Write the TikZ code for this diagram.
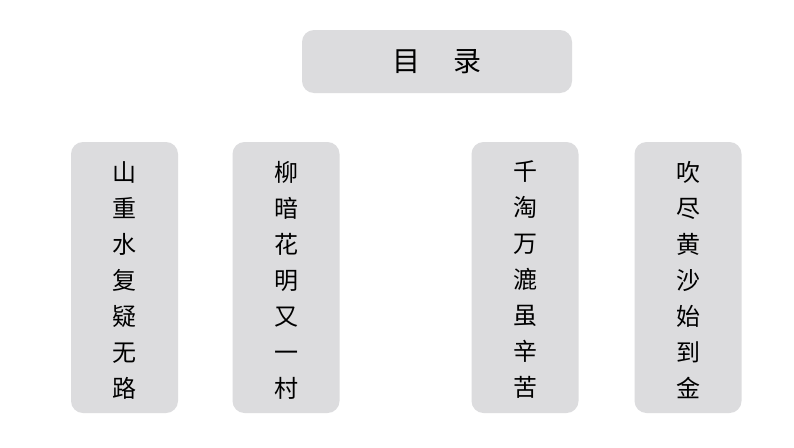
\documentclass[tikz,border=0pt]{standalone}
\usepackage{fontspec}
\newfontfamily\cjk{Noto Sans CJK SC}
\definecolor{boxgray}{HTML}{DCDCDE}
\begin{document}
\begin{tikzpicture}[x=1pt,y=-1pt,
  panel/.style={fill=boxgray,rounded corners=12pt,draw=none},
  chars/.style={font=\cjk\fontsize{24}{36}\selectfont,align=center,text=black}]
\useasboundingbox (0,0) rectangle (794,447);
\fill[white] (0,0) rectangle (794,447);
\node[panel,minimum width=270pt,minimum height=63pt] (title) at (437,61.5) {};
\node[font=\cjk\fontsize{28}{30}\selectfont] (tt) at (title) {目\hspace{1.2em}录};
\foreach \n/\x/\t in {a/124.5/{山\\重\\水\\复\\疑\\无\\路},
                      b/286/{柳\\暗\\花\\明\\又\\一\\村},
                      c/525/{千\\淘\\万\\漉\\虽\\辛\\苦},
                      d/688/{吹\\尽\\黄\\沙\\始\\到\\金}}{
  \node[panel,minimum width=107pt,minimum height=271pt] (\n) at (\x,277.5) {};
  \node[chars] (\n t) at (\x,280) {\t};
}
\end{tikzpicture}
\end{document}
